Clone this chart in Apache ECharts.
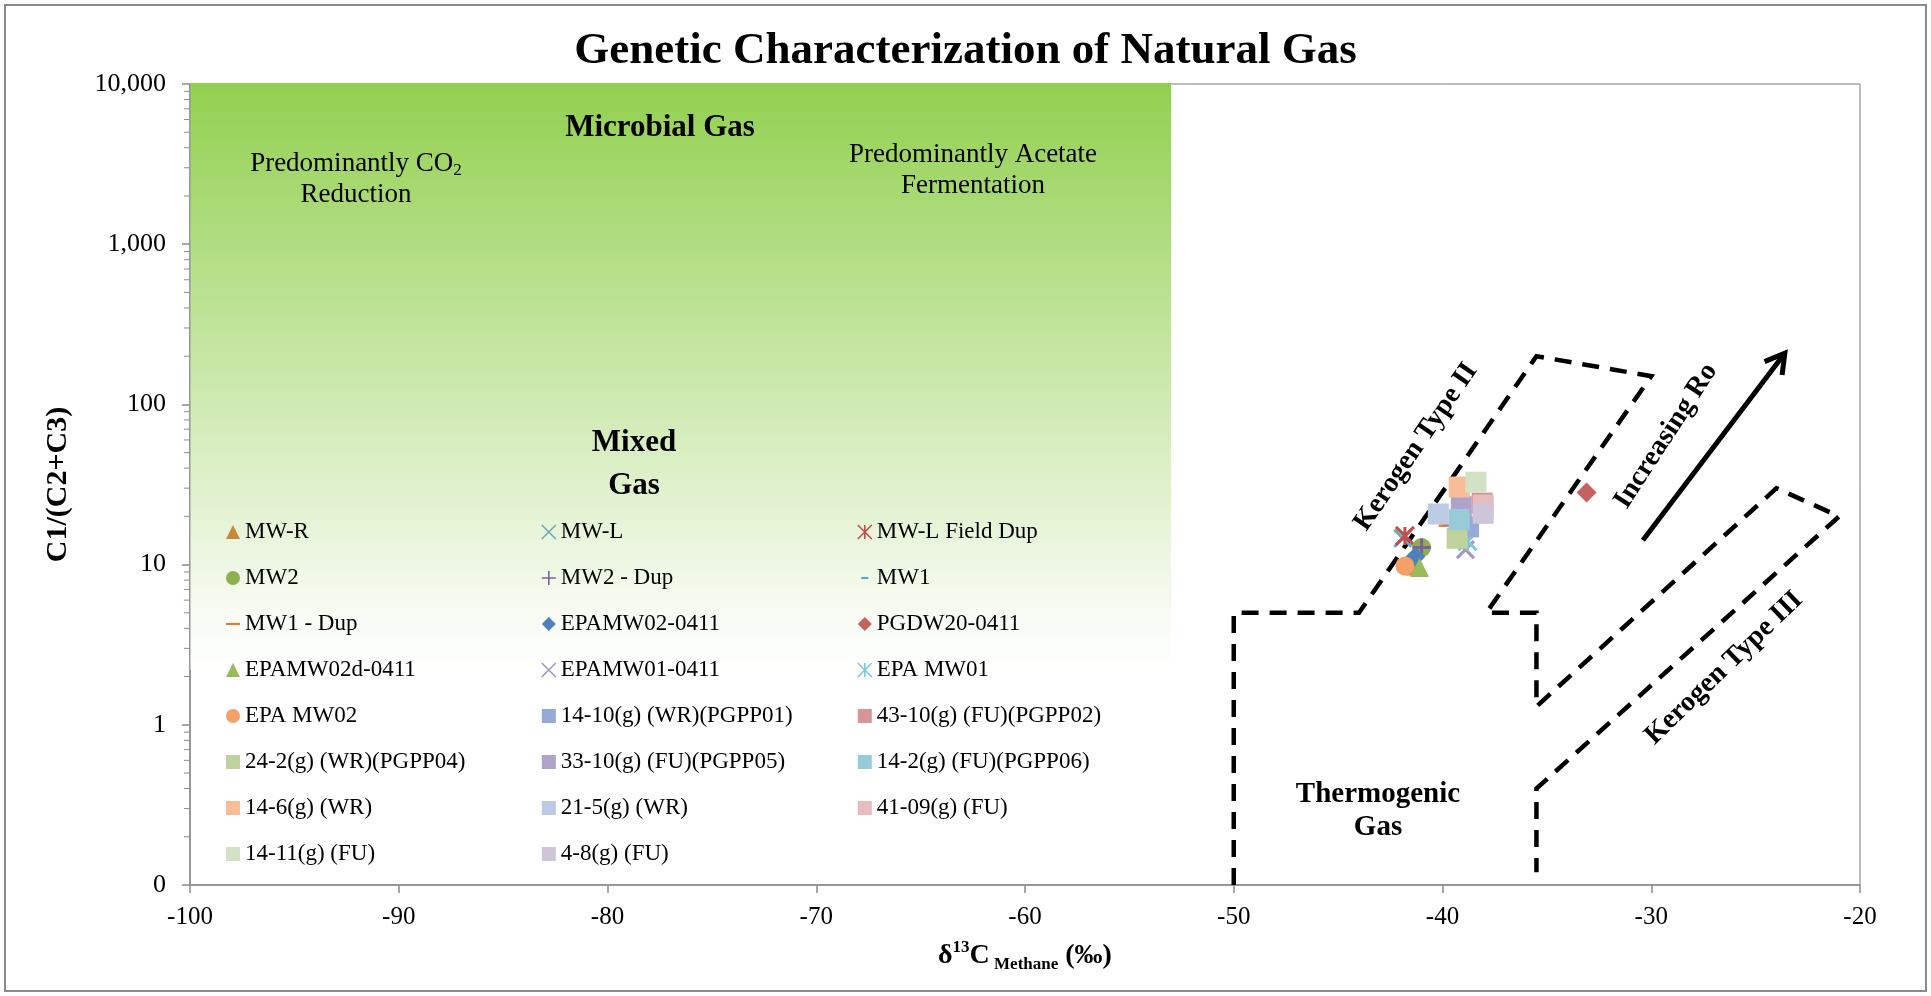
<!DOCTYPE html>
<html>
<head>
<meta charset="utf-8">
<title>Genetic Characterization of Natural Gas</title>
<script src="https://cdn.jsdelivr.net/npm/echarts@6/dist/echarts.min.js"></script>
<style>
  html, body { margin: 0; padding: 0; background: #ffffff; }
  #chart { width: 1931px; height: 996px; }
</style>
</head>
<body>
<div id="chart"></div>
<script>
// ---- data -------------------------------------------------------------
const sampleNames = [
  'MW-R', 'MW-L', 'MW-L Field Dup',
  'MW2', 'MW2 - Dup', 'MW1',
  'MW1 - Dup', 'EPAMW02-0411', 'PGDW20-0411',
  'EPAMW02d-0411', 'EPAMW01-0411', 'EPA MW01',
  'EPA MW02', '14-10(g) (WR)(PGPP01)', '43-10(g) (FU)(PGPP02)',
  '24-2(g) (WR)(PGPP04)', '33-10(g) (FU)(PGPP05)', '14-2(g) (FU)(PGPP06)',
  '14-6(g) (WR)', '21-5(g) (WR)', '41-09(g) (FU)',
  '14-11(g) (FU)', '4-8(g) (FU)'
];
// δ13C of methane (‰)
const d13CMethane = [
  -41.3, -41.9, -41.8,
  -41.0, -41.0, -39.8,
  -39.8, -41.3, -33.1,
  -41.1, -38.9, -38.8,
  -41.8, -38.75, -38.1,
  -39.3, -39.1, -39.2,
  -39.2, -40.2, -38.05,
  -38.4, -38.05
];
// C1/(C2+C3)
const c1Ratio = [
  9.8, 14.6, 15.1,
  12.8, 12.8, 17.6,
  17.5, 11.2, 28.2,
  9.6, 12.4, 14.0,
  9.8, 17.2, 24.2,
  14.6, 23.0, 19.1,
  30.5, 20.7, 23.5,
  32.7, 20.9
];

// field boundaries (thermogenic box, kerogen type II and type III bands)
const boundaryX = [-50, -50, -44, -35.5, -30, -37.9, -35.5, -35.5, -24, -21, -35.5, -35.5];
const boundaryY = [0.1, 5, 5, 200, 150, 5, 5, 1.3, 30, 20, 0.4, 0.12];

// "Increasing Ro" arrow, start and end
const roArrowX = [-30.4, -23.6];
const roArrowY = [14.2, 209];

// microbial gas zone
const microbialX = [-100, -53];
const microbialY = [2.2, 10000];

// axes
const xTickValues = [-100, -90, -80, -70, -60, -50, -40, -30, -20];
const yMinorTickValues = [
  0.2, 0.3, 0.4, 0.5, 0.6, 0.7, 0.8, 0.9,
  2, 3, 4, 5, 6, 7, 8, 9,
  20, 30, 40, 50, 60, 70, 80, 90,
  200, 300, 400, 500, 600, 700, 800, 900,
  2000, 3000, 4000, 5000, 6000, 7000, 8000, 9000
];

// ---- styling ----------------------------------------------------------
const SERIF = '"Liberation Serif", "Times New Roman", Times, serif';
const SHAPES = {
  x: 'path://M0,0L20,20M20,0L0,20',
  asterisk: 'path://M0,0L20,20M20,0L0,20M10,0L10,20',
  plus: 'path://M10,0L10,20M0,10L20,10',
  shortDash: 'path://M0,0M20,20M5,8.5L15,8.5L15,11.5L5,11.5Z',
  longDash: 'path://M0,0M20,20M0,8.5L20,8.5L20,11.5L0,11.5Z'
};
// shape, colour, size; "stroke" marks line-only markers
const markerStyles = [
  { symbol: 'triangle', color: '#C58A3A', size: 19 },
  { symbol: SHAPES.x, color: '#6FA9B6', size: 17, stroke: true },
  { symbol: SHAPES.asterisk, color: '#C0504D', size: 18, stroke: true },
  { symbol: 'circle', color: '#8CB050', size: 19 },
  { symbol: SHAPES.plus, color: '#7E5DA0', size: 18, stroke: true },
  { symbol: SHAPES.shortDash, color: '#4BACC6', size: 16 },
  { symbol: SHAPES.longDash, color: '#E9782F', size: 16 },
  { symbol: 'diamond', color: '#4F81BD', size: 20 },
  { symbol: 'diamond', color: '#C5625F', size: 20 },
  { symbol: 'triangle', color: '#9BBB59', size: 19 },
  { symbol: SHAPES.x, color: '#A495C7', size: 17, stroke: true },
  { symbol: SHAPES.asterisk, color: '#7CC6E0', size: 18, stroke: true },
  { symbol: 'circle', color: '#F5A066', size: 19 },
  { symbol: 'rect', color: '#95AAD6', size: 21 },
  { symbol: 'rect', color: '#D69597', size: 21 },
  { symbol: 'rect', color: '#BDD29D', size: 21 },
  { symbol: 'rect', color: '#B0A3C9', size: 21 },
  { symbol: 'rect', color: '#98CBD8', size: 21 },
  { symbol: 'rect', color: '#F8BC97', size: 21 },
  { symbol: 'rect', color: '#BCCAE3', size: 21 },
  { symbol: 'rect', color: '#E6BCBD', size: 21 },
  { symbol: 'rect', color: '#D3E1C4', size: 21 },
  { symbol: 'rect', color: '#CEC5DB', size: 21 }
];

const AXIS_GRAY = '#8c8c8c';

// ---- series -----------------------------------------------------------
const scatterSeries = sampleNames.map((name, i) => {
  const m = markerStyles[i];
  return {
    name,
    type: 'scatter',
    data: [[d13CMethane[i], c1Ratio[i]]],
    symbol: m.symbol,
    symbolSize: m.size,
    z: 10 + i,
    silent: true,
    itemStyle: m.stroke
      ? { color: 'transparent', borderColor: m.color, borderWidth: 3, opacity: 1 }
      : { color: m.color, borderWidth: 0, opacity: 1 }
  };
});

const microbialZone = {
  type: 'custom',
  name: 'microbial-zone',
  silent: true,
  z: 1,
  data: [[microbialX[0], microbialY[1], microbialX[1], microbialY[0]]],
  renderItem: (params, api) => {
    const p1 = api.coord([api.value(0), api.value(1)]);
    const p2 = api.coord([api.value(2), api.value(3)]);
    return {
      type: 'rect',
      shape: { x: p1[0] + 0.5, y: p1[1] - 1, width: p2[0] - p1[0] - 0.5, height: p2[1] - p1[1] + 1 },
      style: {
        fill: {
          type: 'linear', x: 0, y: 0, x2: 0, y2: 1,
          colorStops: [
            { offset: 0, color: '#92D050' },
            { offset: 0.9, color: '#f7fbf2' },
            { offset: 1, color: '#ffffff' }
          ]
        }
      }
    };
  }
};

const minorTicks = {
  type: 'custom',
  name: 'minor-ticks',
  silent: true,
  clip: false,
  z: 2,
  data: yMinorTickValues.map(v => [xTickValues[0], v]),
  renderItem: (params, api) => {
    const p = api.coord([api.value(0), api.value(1)]);
    return {
      type: 'line',
      shape: { x1: p[0] - 6, y1: p[1], x2: p[0], y2: p[1] },
      style: { stroke: AXIS_GRAY, lineWidth: 1 }
    };
  }
};

const boundaries = {
  type: 'line',
  name: 'boundaries',
  silent: true,
  showSymbol: false,
  symbol: 'none',
  z: 5,
  data: boundaryX.map((x, i) => [x, boundaryY[i]]),
  lineStyle: { color: '#000000', width: 4.5, type: [17, 11], cap: 'butt', join: 'miter' }
};

const roArrow = {
  type: 'custom',
  name: 'ro-arrow',
  silent: true,
  z: 6,
  data: [[roArrowX[0], roArrowY[0], roArrowX[1], roArrowY[1]]],
  renderItem: (params, api) => {
    const a = api.coord([api.value(0), api.value(1)]);
    const b = api.coord([api.value(2), api.value(3)]);
    const ang = Math.atan2(b[1] - a[1], b[0] - a[0]);
    const head = 22, spread = Math.PI / 6;
    const h1 = [b[0] - head * Math.cos(ang - spread), b[1] - head * Math.sin(ang - spread)];
    const h2 = [b[0] - head * Math.cos(ang + spread), b[1] - head * Math.sin(ang + spread)];
    return {
      type: 'group',
      children: [
        { type: 'line', shape: { x1: a[0], y1: a[1], x2: b[0] - 2 * Math.cos(ang), y2: b[1] - 2 * Math.sin(ang) },
          style: { stroke: '#000', lineWidth: 5 } },
        { type: 'polyline', shape: { points: [h1, b, h2] },
          style: { stroke: '#000', lineWidth: 5, fill: null, lineJoin: 'miter' } }
      ]
    };
  }
};

// ---- legend: three columns, filled row by row --------------------------
function legendColumn(col, left) {
  const data = [];
  sampleNames.forEach((name, i) => {
    if (i % 3 !== col) return;
    const m = markerStyles[i];
    data.push({
      name,
      icon: m.symbol,
      itemStyle: m.stroke
        ? { color: 'transparent', borderColor: m.color, borderWidth: 1.6 }
        : { color: m.color, borderWidth: 0 }
    });
  });
  return {
    data,
    orient: 'vertical',
    left,
    top: 520,
    padding: 0,
    itemGap: 22,
    itemWidth: 14,
    itemHeight: 14,
    selectedMode: false,
    textStyle: { fontFamily: SERIF, fontSize: 23, lineHeight: 24, color: '#000' }
  };
}

// ---- free text ----------------------------------------------------------
function note(text, x, y, size, bold, rotDeg, lineHeight, rich) {
  return {
    type: 'text', x, y, z: 100, silent: true,
    rotation: (rotDeg || 0) * Math.PI / 180,
    style: {
      text,
      fill: '#000',
      fontFamily: SERIF,
      fontSize: size,
      fontWeight: bold ? 'bold' : 'normal',
      lineHeight: lineHeight || size,
      align: 'center',
      verticalAlign: 'middle',
      rich: rich || undefined
    }
  };
}
const co2Rich = {
  a: { fontFamily: SERIF, fontSize: 27, lineHeight: 31, fill: '#000' },
  s: { fontFamily: SERIF, fontSize: 17, lineHeight: 17, verticalAlign: 'bottom', fill: '#000' }
};

// ---- chart --------------------------------------------------------------
const chart = echarts.init(document.getElementById('chart'), null, { renderer: 'canvas' });

chart.setOption({
  animation: false,
  backgroundColor: '#ffffff',
  title: {
    text: 'Genetic Characterization of Natural Gas',
    left: 'center',
    top: 28,
    padding: 0,
    textStyle: { fontFamily: SERIF, fontSize: 45, fontWeight: 'bold', color: '#000', lineHeight: 46 }
  },
  grid: {
    left: 190, right: 71, top: 84, bottom: 111,
    show: true, borderColor: '#7a7a7a', borderWidth: 1, backgroundColor: 'transparent'
  },
  legend: [legendColumn(0, 226), legendColumn(1, 541), legendColumn(2, 857)],
  xAxis: {
    type: 'value',
    min: xTickValues[0],
    max: xTickValues[xTickValues.length - 1],
    interval: 10,
    splitLine: { show: false },
    axisLine: { show: true, onZero: false, lineStyle: { color: AXIS_GRAY, width: 1.5 } },
    axisTick: { show: true, length: 8, lineStyle: { color: AXIS_GRAY, width: 1.5 } },
    axisLabel: { fontFamily: SERIF, fontSize: 25, color: '#000', margin: 20 },
    name: '{a|δ}{sup|13}{a|C}{sub| Methane}{a| (‰)}',
    nameLocation: 'middle',
    nameGap: 54,
    nameTextStyle: {
      fontFamily: SERIF, fontWeight: 'bold', fontSize: 28, color: '#000', lineHeight: 34,
      rich: {
        a: { fontFamily: SERIF, fontWeight: 'bold', fontSize: 28, lineHeight: 34, color: '#000' },
        sup: { fontFamily: SERIF, fontWeight: 'bold', fontSize: 17, lineHeight: 20, verticalAlign: 'top', color: '#000' },
        sub: { fontFamily: SERIF, fontWeight: 'bold', fontSize: 17, lineHeight: 17, verticalAlign: 'bottom', color: '#000' }
      }
    }
  },
  yAxis: {
    type: 'log',
    logBase: 10,
    min: 0.1,
    max: 10000,
    splitNumber: 5,
    splitLine: { show: false },
    axisLine: { show: true, lineStyle: { color: AXIS_GRAY, width: 1.5 } },
    axisTick: { show: true, length: 8, lineStyle: { color: AXIS_GRAY, width: 1.5 } },
    axisLabel: {
      fontFamily: SERIF, fontSize: 26, color: '#000', margin: 24,
      formatter: v => (v < 1 ? '0' : Math.round(v).toLocaleString('en-US'))
    },
    name: 'C1/(C2+C3)',
    nameLocation: 'middle',
    nameRotate: 90,
    nameGap: 117,
    nameTextStyle: { fontFamily: SERIF, fontWeight: 'bold', fontSize: 30, color: '#000' }
  },
  graphic: [
    { type: 'rect', silent: true, z: 0,
      shape: { x: 5, y: 5, width: 1921, height: 986 },
      style: { fill: null, stroke: '#8a8a8a', lineWidth: 2 } },
    note('Microbial Gas', 660, 128, 31, true),
    note('{a|Predominantly CO}{s|2}\n{a|Reduction}', 356, 179.5, 27, false, 0, 31, co2Rich),
    note('Predominantly Acetate\nFermentation', 973, 170.5, 27, false, 0, 31),
    note('Mixed\nGas', 634, 464.5, 31, true, 0, 43),
    note('Thermogenic\nGas', 1378, 811.5, 29, true, 0, 33),
    note('Kerogen Type II', 1416, 447, 28, true, 55.5),
    note('Increasing Ro', 1666, 436, 28, true, 57),
    note('Kerogen Type III', 1724, 668, 28, true, 44)
  ],
  series: [microbialZone, minorTicks, boundaries, roArrow].concat(scatterSeries)
});
</script>
</body>
</html>
